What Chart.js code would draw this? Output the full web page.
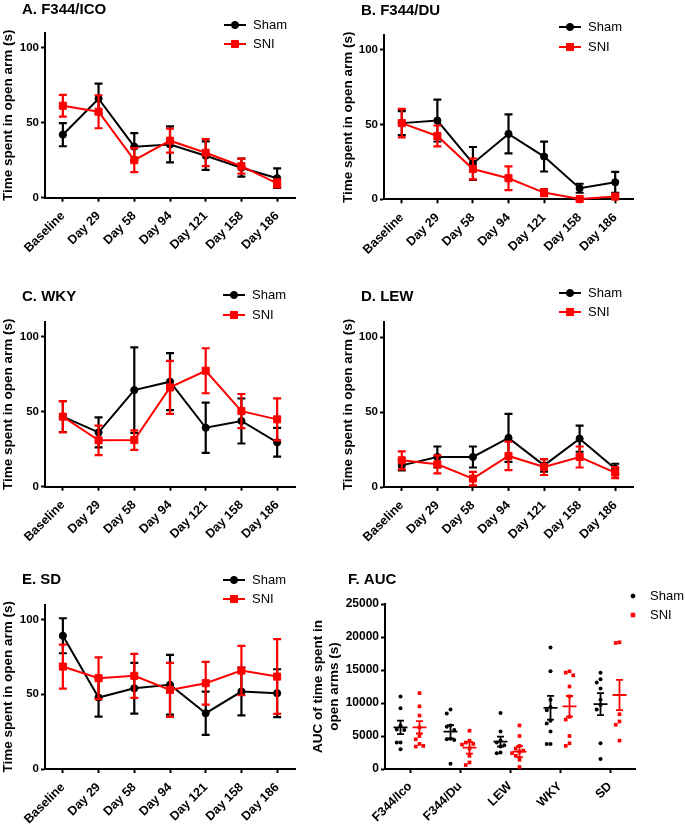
<!DOCTYPE html>
<html>
<head>
<meta charset="utf-8">
<script src="https://cdn.jsdelivr.net/npm/chart.js@4/dist/chart.umd.min.js"></script>
<style>
    body { margin: 0; background: #fff; }
    #wrap { position: relative; width: 685px; height: 826px; overflow: hidden; }
    canvas { position: absolute; }
</style>
</head>
<body>
<div id="wrap">
    <canvas id="pA" style="left:0px;top:0px;width:340px;height:270px" width="340" height="270"></canvas>
    <canvas id="pB" style="left:340px;top:0px;width:345px;height:270px" width="345" height="270"></canvas>
    <canvas id="pC" style="left:0px;top:270px;width:340px;height:280px" width="340" height="280"></canvas>
    <canvas id="pD" style="left:340px;top:270px;width:345px;height:280px" width="345" height="280"></canvas>
    <canvas id="pE" style="left:0px;top:550px;width:340px;height:276px" width="340" height="276"></canvas>
    <canvas id="pF" style="left:300px;top:550px;width:385px;height:276px" width="385" height="276"></canvas>
</div>
<script>
// time points shared by panels A-E
const timepoints = ['Baseline', 'Day 29', 'Day 58', 'Day 94', 'Day 121', 'Day 158', 'Day 186'];
const yTicksTime = [0, 50, 100];

// A. F344/ICO (mean, SEM)
const icoShamMean = [42, 66, 34, 35.5, 28, 20, 13];
const icoShamSem = [7.7, 10, 9, 12, 9.5, 6, 6.5];
const icoSniMean = [61.3, 57.3, 25, 38, 30, 21, 9.6];
const icoSniSem = [7.3, 11, 8, 8, 9, 5, 2.7];

// B. F344/DU
const duShamMean = [51, 52.7, 24, 43.8, 28.6, 7.4, 11.4];
const duShamSem = [8, 14, 11, 13, 10, 3, 7];
const duSniMean = [51, 42.4, 20.3, 14.1, 4.5, 0.2, 1.8];
const duSniSem = [9.5, 7, 7, 8, 2.4, 0.5, 1];

// C. WKY
const wkyShamMean = [46.7, 36.2, 64.4, 70, 39.3, 43.8, 29.6];
const wkyShamSem = [10.3, 10, 28.5, 19, 16.7, 15, 9.6];
const wkySniMean = [46.7, 30.9, 31.1, 66.2, 77.3, 50.4, 44.9];
const wkySniSem = [10.4, 9.8, 6.5, 17.7, 15, 11.4, 14];

// D. LEW
const lewShamMean = [14.4, 20, 20, 32.7, 14.4, 32.2, 12.2];
const lewShamSem = [3.3, 7, 7, 16, 4.2, 8.7, 3.3];
const lewSniMean = [17.8, 15.1, 5.6, 20.7, 13.3, 20, 9.6];
const lewSniSem = [6, 6, 4.5, 9.5, 5.3, 7, 3.7];

// E. SD
const sdShamMean = [89.1, 47.8, 54, 56.3, 37.3, 51.8, 50.7];
const sdShamSem = [11.7, 12.8, 17, 20, 14.5, 16, 16];
const sdSniMean = [68.5, 60.7, 62.3, 52.9, 57.4, 65.8, 61.8];
const sdSniSem = [14.7, 14, 14.7, 18, 14.3, 16.5, 25];

// F. AUC (individual animals, then mean and SEM)
const aucGroups = ['F344/Ico', 'F344/Du', 'LEW', 'WKY', 'SD'];
const aucSham = [
    [11000, 9200, 6600, 6000, 5900, 4000, 4000, 3000],
    [9000, 8400, 6600, 6400, 5900, 4600, 4500, 4400, 800],
    [8500, 5700, 4300, 4000, 3600, 3400, 2500, 2400],
    [18400, 14800, 10500, 9400, 8900, 7300, 6900, 5700, 3800, 3800],
    [14600, 13600, 13100, 12200, 10500, 9700, 9000, 3900, 1500]
];
const aucSni = [
    [11500, 9500, 8100, 6300, 5000, 4500, 3800, 3400, 3500],
    [5800, 4300, 4000, 3800, 3700, 3100, 2000, 1000, 600],
    [6600, 5000, 3500, 3100, 2800, 2600, 2400, 2000, 1400, 300],
    [14800, 14600, 14200, 12500, 11000, 7900, 7500, 5000, 3900, 3500],
    [19200, 19100, 8300, 7200, 6700, 4300]
];
const aucShamMean = [6300, 5650, 4140, 9270, 9830];
const aucShamSem = [1030, 1000, 760, 1800, 1680];
const aucSniMean = [6310, 3230, 2630, 9500, 11210];
const aucSniSem = [930, 890, 830, 1560, 2300];

const FONT = "'Liberation Sans', Arial, sans-serif";
Chart.defaults.font.family = FONT;
Chart.defaults.color = '#000';

// error bars drawn just before each line dataset
const errorBars = {
    id: 'errorBars',
    beforeDatasetDraw(chart, args) {
        const ds = chart.data.datasets[args.index];
        if (!ds.sem) return;
        const { ctx, scales: { y } } = chart;
        ctx.save();
        ctx.strokeStyle = ds.borderColor;
        ctx.lineWidth = 2.2;
        args.meta.data.forEach((pt, i) => {
            const v = ds.data[i], e = ds.sem[i];
            const top = y.getPixelForValue(v + e);
            const bot = y.getPixelForValue(v - e);
            ctx.beginPath();
            ctx.moveTo(pt.x, top); ctx.lineTo(pt.x, bot);
            ctx.moveTo(pt.x - 4, top); ctx.lineTo(pt.x + 4, top);
            ctx.moveTo(pt.x - 4, bot); ctx.lineTo(pt.x + 4, bot);
            ctx.stroke();
        });
        ctx.restore();
    }
};

// mean +/- SEM lines for the scatter panel
const meanLines = {
    id: 'meanLines',
    afterDatasetDraw(chart, args) {
        const ds = chart.data.datasets[args.index];
        if (!ds.mean) return;
        const { ctx, scales: { x, y } } = chart;
        ctx.save();
        ctx.strokeStyle = ds.borderColor;
        ctx.lineWidth = 1.8;
        ds.mean.forEach((m, i) => {
            const cx = x.getPixelForValue(i + ds.shift);
            const my = y.getPixelForValue(m);
            const top = y.getPixelForValue(m + ds.sem[i]);
            const bot = y.getPixelForValue(m - ds.sem[i]);
            ctx.beginPath();
            ctx.moveTo(cx - 7, my); ctx.lineTo(cx + 7, my);
            ctx.moveTo(cx, top); ctx.lineTo(cx, bot);
            ctx.moveTo(cx - 3.5, top); ctx.lineTo(cx + 3.5, top);
            ctx.moveTo(cx - 3.5, bot); ctx.lineTo(cx + 3.5, bot);
            ctx.stroke();
        });
        ctx.restore();
    }
};

// panel title and legend
const panelDeco = {
    id: 'panelDeco',
    afterDraw(chart, args, opts) {
        const ctx = chart.ctx;
        ctx.save();
        ctx.fillStyle = '#000';
        ctx.textBaseline = 'middle';
        ctx.textAlign = 'left';
        ctx.font = 'bold 15px ' + FONT;
        ctx.fillText(opts.title, opts.tx, opts.ty);
        ctx.font = '13px ' + FONT;
        chart.data.datasets.forEach((ds, i) => {
            const ly = opts.ly[i];
            ctx.strokeStyle = ds.borderColor;
            ctx.fillStyle = ds.backgroundColor;
            if (opts.withLine) {
                ctx.lineWidth = 2;
                ctx.beginPath();
                ctx.moveTo(opts.lx - 11, ly); ctx.lineTo(opts.lx + 11, ly);
                ctx.stroke();
            }
            ctx.lineWidth = 1;
            Chart.helpers.drawPoint(ctx, {
                pointStyle: ds.pointStyle, radius: ds.pointRadius, rotation: 0, borderWidth: 1
            }, opts.lx, ly);
            ctx.fillStyle = '#000';
            ctx.fillText(ds.label, opts.lx + opts.textGap, ly);
        });
        ctx.restore();
    }
};

function axisStyle() {
    return {
        grid: { display: true, drawOnChartArea: false, offset: false, tickLength: 4, tickWidth: 2, color: '#000' },
        border: { display: true, color: '#000', width: 2 }
    };
}

function linePanel(id, cfg) {
    return new Chart(document.getElementById(id), {
        type: 'line',
        data: {
            labels: timepoints,
            datasets: [
                { label: 'Sham', data: cfg.sham, sem: cfg.shamSem, borderColor: '#000', backgroundColor: '#000',
                  pointStyle: 'circle', pointRadius: 3.6, pointBorderWidth: 1, borderWidth: 2, order: 1, clip: false },
                { label: 'SNI', data: cfg.sni, sem: cfg.sniSem, borderColor: '#ff0000', backgroundColor: '#ff0000',
                  pointStyle: 'rect', pointRadius: 5, pointBorderWidth: 1, borderWidth: 2, order: 0, clip: false }
            ]
        },
        options: {
            responsive: false,
            animation: false,
            layout: { padding: { left: 0, top: cfg.top, right: cfg.right, bottom: 0 } },
            plugins: {
                legend: { display: false },
                tooltip: { enabled: false },
                panelDeco: { title: cfg.title, tx: cfg.tx, ty: cfg.ty, lx: cfg.lx, ly: cfg.ly, withLine: true, textGap: 18 }
            },
            scales: {
                x: {
                    ...axisStyle(),
                    offset: true,
                    ticks: { color: '#000', font: { size: 12.5, weight: 'bold' }, minRotation: 45, maxRotation: 45, padding: 7 },
                    afterFit: s => { s.height = cfg.xh; }
                },
                y: {
                    ...axisStyle(),
                    min: 0,
                    max: 110,
                    afterBuildTicks: s => { s.ticks = yTicksTime.map(v => ({ value: v })); },
                    ticks: { color: '#000', font: { size: 11.5, weight: 'bold' }, padding: 2 },
                    title: { display: true, text: 'Time spent in open arm (s)', color: '#000',
                             font: { size: 13.5, weight: 'bold' }, padding: { top: 0, bottom: 0 } },
                    afterFit: s => { s.width = cfg.yw; }
                }
            }
        },
        plugins: [errorBars, panelDeco]
    });
}

linePanel('pA', { sham: icoShamMean, shamSem: icoShamSem, sni: icoSniMean, sniSem: icoSniSem,
    title: 'A. F344/ICO', tx: 22, ty: 10, lx: 235, ly: [25, 44], top: 32.7, right: 45, xh: 72.3, yw: 45 });
linePanel('pB', { sham: duShamMean, shamSem: duShamSem, sni: duSniMean, sniSem: duSniSem,
    title: 'B. F344/DU', tx: 21, ty: 11, lx: 230, ly: [27, 47], top: 35, right: 52, xh: 70.7, yw: 44 });
linePanel('pC', { sham: wkyShamMean, shamSem: wkyShamSem, sni: wkySniMean, sniSem: wkySniSem,
    title: 'C. WKY', tx: 22, ty: 27, lx: 234, ly: [25, 45], top: 51.7, right: 45, xh: 63.3, yw: 45 });
linePanel('pD', { sham: lewShamMean, shamSem: lewShamSem, sni: lewSniMean, sniSem: lewSniSem,
    title: 'D. LEW', tx: 21, ty: 27, lx: 230, ly: [23, 42], top: 52, right: 52, xh: 63, yw: 44 });
linePanel('pE', { sham: sdShamMean, shamSem: sdShamSem, sni: sdSniMean, sniSem: sdSniSem,
    title: 'E. SD', tx: 22, ty: 30, lx: 234, ly: [30, 49], top: 54.5, right: 45, xh: 57, yw: 45 });

// spread overlapping dots sideways, like a column scatter
function swarm(groups, shift) {
    const pts = [];
    const tol = 700, step = 0.075;
    const offs = [0, -step, step, -2 * step, 2 * step, -3 * step, 3 * step];
    groups.forEach((vals, g) => {
        const placed = [];
        vals.forEach(v => {
            const o = offs.find(c => placed.every(p => Math.abs(p.v - v) > tol || Math.abs(p.o - c) > step * 0.9));
            const off = o === undefined ? 0 : o;
            placed.push({ v, o: off });
            pts.push({ x: g + shift + off, y: v });
        });
    });
    return pts;
}

new Chart(document.getElementById('pF'), {
    type: 'scatter',
    data: {
        datasets: [
            { label: 'Sham', data: swarm(aucSham, -0.19), mean: aucShamMean, sem: aucShamSem, shift: -0.19,
              borderColor: '#000', backgroundColor: '#000', pointStyle: 'circle', pointRadius: 2, borderWidth: 0, order: 1, clip: false },
            { label: 'SNI', data: swarm(aucSni, 0.19), mean: aucSniMean, sem: aucSniSem, shift: 0.19,
              borderColor: '#ff0000', backgroundColor: '#ff0000', pointStyle: 'rect', pointRadius: 2.6, borderWidth: 0, order: 0, clip: false }
        ]
    },
    options: {
        responsive: false,
        animation: false,
        layout: { padding: { left: 0, top: 54, right: 50, bottom: 0 } },
        plugins: {
            legend: { display: false },
            tooltip: { enabled: false },
            panelDeco: { title: 'F. AUC', tx: 48, ty: 30, lx: 333, ly: [46, 65], withLine: false, textGap: 17 }
        },
        scales: {
            x: {
                ...axisStyle(),
                type: 'linear',
                min: -0.5,
                max: 4.5,
                afterBuildTicks: s => { s.ticks = aucGroups.map((g, i) => ({ value: i })); },
                ticks: { color: '#000', font: { size: 12.5, weight: 'bold' }, minRotation: 45, maxRotation: 45, padding: 6,
                         callback: v => aucGroups[v] },
                afterFit: s => { s.height = 57; }
            },
            y: {
                ...axisStyle(),
                min: 0,
                max: 25000,
                ticks: { color: '#000', stepSize: 5000, font: { size: 12, weight: 'bold' }, padding: 2,
                         callback: v => String(v) },
                title: { display: true, text: ['AUC of time spent in', 'open arms (s)'], color: '#000',
                         font: { size: 13.5, weight: 'bold' }, padding: { top: 10, bottom: 0 } },
                afterFit: s => { s.width = 85; }
            }
        }
    },
    plugins: [meanLines, panelDeco]
});
</script>
</body>
</html>
